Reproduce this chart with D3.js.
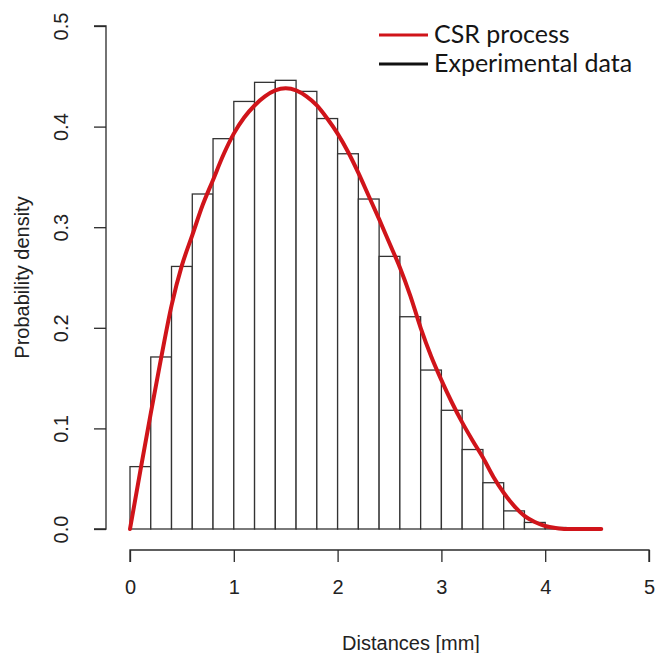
<!DOCTYPE html>
<html>
<head>
<meta charset="utf-8">
<script src="https://cdn.jsdelivr.net/npm/d3@7"></script>
<style>
  html, body { margin: 0; padding: 0; background: #fff; }
  svg { display: block; }
</style>
</head>
<body>
<svg id="chart" width="667" height="653"></svg>
<script>
// ---- data ----
const binStarts = [0.0, 0.2, 0.4, 0.6, 0.8, 1.0, 1.2, 1.4, 1.6, 1.8, 2.0, 2.2, 2.4, 2.6, 2.8, 3.0, 3.2, 3.4, 3.6, 3.8, 4.0];
const binWidth = 0.2;
const binDensity = [0.062, 0.171, 0.261, 0.333, 0.388, 0.425, 0.444, 0.446, 0.435, 0.408, 0.373, 0.328, 0.271, 0.211, 0.158, 0.118, 0.079, 0.046, 0.018, 0.0065, 0.0015];

const curveX = [0, 0.1, 0.2, 0.3, 0.4, 0.5, 0.6, 0.7, 0.8, 0.9, 1.0, 1.1, 1.2, 1.3, 1.4, 1.5, 1.6, 1.7, 1.8, 1.9, 2.0, 2.1, 2.2, 2.3, 2.4, 2.5, 2.6, 2.7, 2.8, 2.9, 3.0, 3.1, 3.2, 3.3, 3.4, 3.5, 3.6, 3.7, 3.8, 3.9, 4.0, 4.1, 4.2, 4.54];
const curveY = [0, 0.058, 0.115, 0.170, 0.222, 0.262, 0.292, 0.322, 0.347, 0.372, 0.393, 0.409, 0.421, 0.430, 0.436, 0.438, 0.436, 0.430, 0.421, 0.408, 0.393, 0.375, 0.354, 0.331, 0.308, 0.284, 0.260, 0.232, 0.200, 0.172, 0.148, 0.126, 0.106, 0.088, 0.071, 0.052, 0.036, 0.023, 0.013, 0.007, 0.003, 0.001, 0.0, 0.0];

const xTicks = [0, 1, 2, 3, 4, 5];
const yTicks = [0.0, 0.1, 0.2, 0.3, 0.4, 0.5];
const xTitle = "Distances [mm]";
const yTitle = "Probability density";
const legendLabels = ["CSR process", "Experimental data"];
const legendColors = ["#d0141a", "#111111"];

// ---- drawing ----
const svg = d3.select("#chart");
const x = d3.scaleLinear().domain([0, 5]).range([130, 649]);
const y = d3.scaleLinear().domain([0, 0.5]).range([529, 26]);
const axisColor = "#2a2a2a";

// bars
svg.append("g").selectAll("rect")
  .data(binStarts.map((s, i) => ({ s, d: binDensity[i] })))
  .join("rect")
  .attr("x", d => x(d.s))
  .attr("width", d => x(d.s + binWidth) - x(d.s))
  .attr("y", d => y(d.d))
  .attr("height", d => y(0) - y(d.d))
  .attr("fill", "#fff")
  .attr("stroke", "#333")
  .attr("stroke-width", 1.3);

// curve
const pts = curveX.map((v, i) => [v, curveY[i]]);
svg.append("path")
  .datum(pts)
  .attr("fill", "none")
  .attr("stroke", legendColors[0])
  .attr("stroke-width", 4)
  .attr("stroke-linejoin", "round")
  .attr("stroke-linecap", "round")
  .attr("d", d3.line().x(d => x(d[0])).y(d => y(d[1])).curve(d3.curveMonotoneX));

// x axis (R style, offset below)
const xAxis = svg.append("g").attr("transform", "translate(0,550)")
  .call(d3.axisBottom(x).tickValues(xTicks).tickSize(12).tickPadding(18).tickFormat(d3.format("d")));
xAxis.select(".domain").attr("d", `M${x(0)},12V0H${x(5)}V12`);
xAxis.selectAll("path, line").attr("stroke", axisColor).attr("stroke-width", 1.3);
xAxis.selectAll("text").attr("font-family", "Liberation Sans, Arial, sans-serif").attr("font-size", 20).attr("fill", "#222");

// y axis
const yAxis = svg.append("g").attr("transform", "translate(106,0)")
  .call(d3.axisLeft(y).tickValues(yTicks).tickSize(12).tickFormat(d3.format(".1f")));
yAxis.select(".domain").attr("d", `M-12,${y(0)}H0V${y(0.5)}H-12`);
yAxis.selectAll("path, line").attr("stroke", axisColor).attr("stroke-width", 1.3);
yAxis.selectAll("text")
  .attr("font-family", "Liberation Sans, Arial, sans-serif")
  .attr("font-size", 20).attr("fill", "#222")
  .attr("x", null).attr("dy", null)
  .attr("text-anchor", "middle")
  .attr("transform", "translate(-38,0) rotate(-90)");

// titles
svg.append("text")
  .attr("x", 411).attr("y", 650)
  .attr("text-anchor", "middle")
  .attr("font-family", "Liberation Sans, Arial, sans-serif")
  .attr("font-size", 20).attr("fill", "#222")
  .text(xTitle);
svg.append("text")
  .attr("transform", `translate(29,${(y(0) + y(0.5)) / 2}) rotate(-90)`)
  .attr("text-anchor", "middle")
  .attr("font-family", "Liberation Sans, Arial, sans-serif")
  .attr("font-size", 20).attr("fill", "#222")
  .text(yTitle);

// legend
const leg = svg.append("g");
legendLabels.forEach((lab, i) => {
  const ly = 35 + i * 29;
  leg.append("line")
    .attr("x1", 379).attr("x2", 428).attr("y1", ly).attr("y2", ly)
    .attr("stroke", legendColors[i]).attr("stroke-width", 3);
  leg.append("text")
    .attr("x", 434).attr("y", ly + 8)
    .attr("font-family", "Lato, sans-serif")
    .attr("font-size", 25).attr("fill", "#151515")
    .text(lab);
});
</script>
</body>
</html>
